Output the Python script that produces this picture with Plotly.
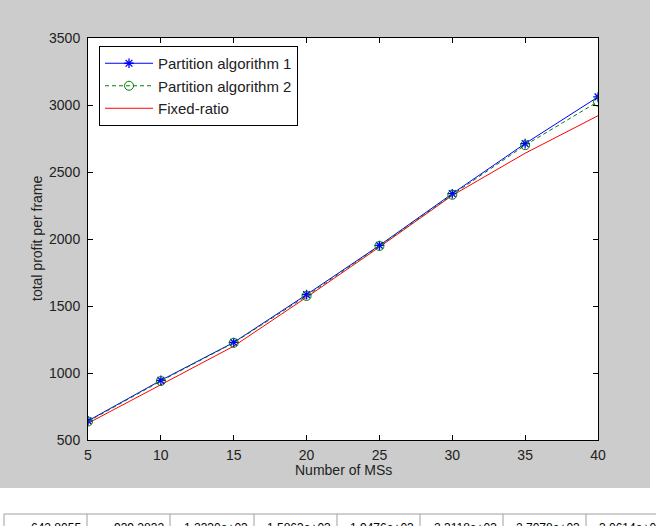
import plotly.graph_objects as go

# ---- data ----
ms_counts = [5, 10, 15, 20, 25, 30, 35, 40]
partition_alg1 = [643, 945, 1228, 1585, 1952, 2338, 2712, 3060]
partition_alg2 = [638, 940, 1225, 1575, 1948, 2330, 2700, 3025]
fixed_ratio = [625, 915, 1200, 1565, 1940, 2325, 2640, 2920]
x_ticks = [5, 10, 15, 20, 25, 30, 35, 40]
y_ticks = [500, 1000, 1500, 2000, 2500, 3000, 3500]
table_labels = ["642.8055", "939.2832", "1.2330e+03", "1.5863e+03",
                "1.9476e+03", "2.3118e+03", "2.7078e+03", "3.0614e+03"]

W, H = 656, 526
L, R, T, B = 88, 58, 38, 86
pw, ph = W - L - R, H - T - B

def px(x):
    return (x - L) / pw

def py(y):
    return (H - B - y) / ph

FONT = "Liberation Sans, Arial, sans-serif"

fig = go.Figure()
fig.add_trace(go.Scatter(
    x=ms_counts, y=fixed_ratio, name="Fixed-ratio", mode="lines",
    line=dict(color="#ff0000", width=1)))
fig.add_trace(go.Scatter(
    x=ms_counts, y=partition_alg1, name="Partition algorithm 1", mode="lines+markers",
    line=dict(color="#0000ff", width=1),
    marker=dict(symbol="asterisk-open", size=8, line=dict(color="#0000ff", width=1.3))))
fig.add_trace(go.Scatter(
    x=ms_counts, y=partition_alg2, name="Partition algorithm 2", mode="lines+markers",
    line=dict(color="#008000", width=1, dash="4px,3px"),
    marker=dict(symbol="circle-open", size=9, line=dict(color="#008000", width=1))))

axis_common = dict(
    showgrid=False, zeroline=False, showline=True, linecolor="#000000", linewidth=1,
    mirror="ticks", ticks="inside", ticklen=5, tickcolor="#000000", tickwidth=1,
    tickfont=dict(family=FONT, size=14, color="#222222"))

fig.update_xaxes(range=[5, 40], tickvals=x_ticks, ticktext=[str(v) for v in x_ticks],
                 ticklabelstandoff=2, **axis_common)
fig.update_yaxes(range=[500, 3500], tickvals=y_ticks, ticktext=[str(v) for v in y_ticks],
                 ticklabelstandoff=4, **axis_common)

shapes = []
# white strip below and right of the grey figure
shapes.append(dict(type="rect", xref="paper", yref="paper", x0=px(-5), x1=px(W + 5),
                   y0=py(H + 5), y1=py(488), fillcolor="#ffffff", line=dict(width=0), layer="above"))
shapes.append(dict(type="rect", xref="paper", yref="paper", x0=px(650), x1=px(W + 5),
                   y0=py(H + 5), y1=py(-5), fillcolor="#ffffff", line=dict(width=0), layer="above"))
# table row
cell_edges = [4, 87, 170, 254, 337, 420, 503, 586, 669]
shapes.append(dict(type="line", xref="paper", yref="paper", x0=px(4), x1=px(W + 5),
                   y0=py(514), y1=py(514), line=dict(color="#a0a0a0", width=1), layer="above"))
for e in cell_edges:
    shapes.append(dict(type="line", xref="paper", yref="paper", x0=px(e), x1=px(e),
                       y0=py(514), y1=py(H + 5), line=dict(color="#a0a0a0", width=1), layer="above"))

annotations = []
for i, lab in enumerate(table_labels):
    annotations.append(dict(text=lab, xref="paper", yref="paper",
                            x=px(cell_edges[i + 1] - 4), y=py(519), xanchor="right", yanchor="top",
                            showarrow=False, font=dict(family=FONT, size=12, color="#000000")))
annotations.append(dict(text="Number of MSs", xref="paper", yref="paper", x=px(343), y=py(470),
                        xanchor="center", yanchor="middle", showarrow=False,
                        font=dict(family=FONT, size=14, color="#222222")))
annotations.append(dict(text="total profit per frame", xref="paper", yref="paper", x=px(37), y=py(239),
                        xanchor="center", yanchor="middle", showarrow=False, textangle=-90,
                        font=dict(family=FONT, size=14, color="#222222")))

fig.update_layout(
    width=W, height=H, margin=dict(l=L, r=R, t=T, b=B, pad=0),
    paper_bgcolor="#cccccc", plot_bgcolor="#ffffff",
    shapes=shapes, annotations=annotations,
    legend=dict(x=px(99), y=py(46), xanchor="left", yanchor="top",
                bgcolor="#ffffff", bordercolor="#000000", borderwidth=1,
                font=dict(family=FONT, size=15, color="#222222"),
                traceorder="normal", tracegroupgap=0, itemwidth=48),
    showlegend=True,
)
# order legend entries: alg1, alg2, fixed
fig.data[0].legendrank = 3
fig.data[1].legendrank = 1
fig.data[2].legendrank = 2

fig.write_html("out.html")
